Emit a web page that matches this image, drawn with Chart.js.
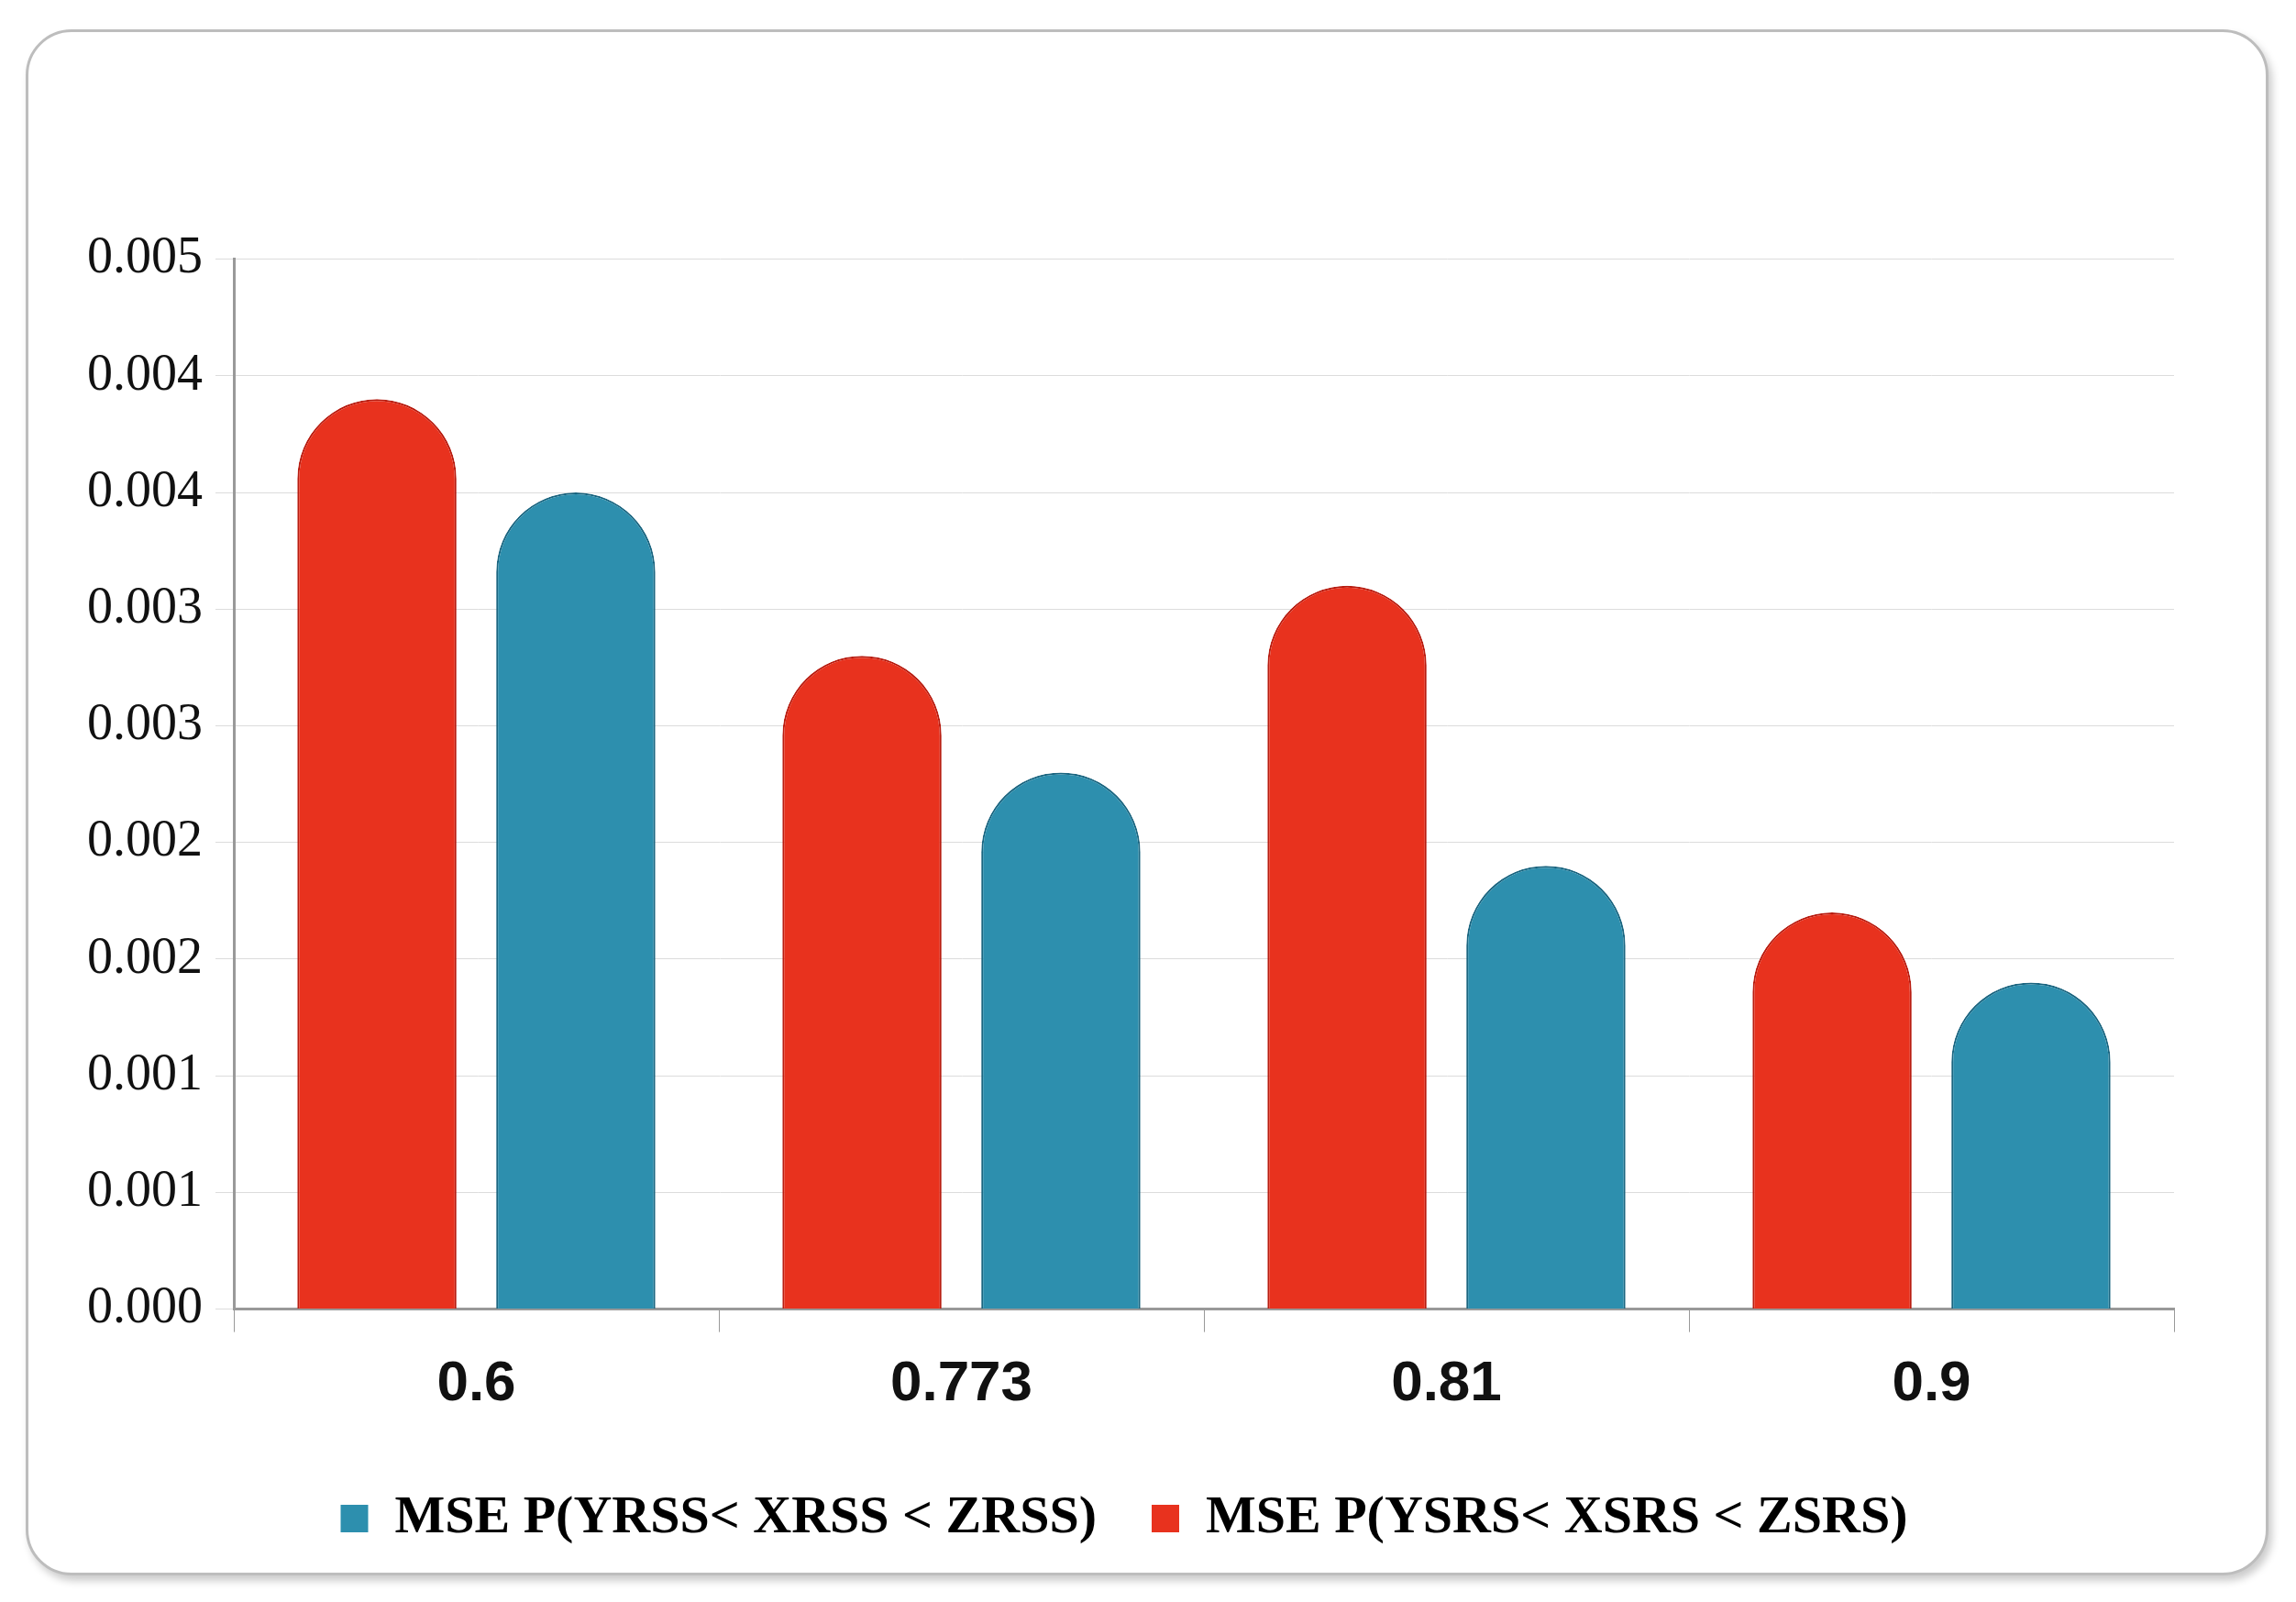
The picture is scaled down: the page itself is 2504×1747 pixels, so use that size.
<!DOCTYPE html>
<html><head><meta charset="utf-8">
<script src="https://cdn.jsdelivr.net/npm/chart.js@4/dist/chart.umd.min.js"></script>
<style>
html,body{margin:0;background:#fff;}
#frame{position:absolute;left:28px;top:32px;width:2440px;height:1680px;border:3px solid #bdbdbd;border-radius:50px;box-shadow:4px 6px 8px #ccc;background:#fff;}
#wrap{position:absolute;left:40px;top:200px;width:2380px;height:1460px;}
</style></head><body>
<div id="frame"><div id="wrap"><canvas id="c"></canvas></div></div>
<script>
const categories = ['0.6', '0.773', '0.81', '0.9'];
const srsValues  = [0.0039, 0.0028, 0.0031, 0.0017];
const rssValues  = [0.0035, 0.0023, 0.0019, 0.0014];
const yTickLabels = ['0.000','0.001','0.001','0.002','0.002','0.003','0.003','0.004','0.004','0.005'];
const red = '#e8321e', blue = '#2d8fae';

new Chart(document.getElementById('c'), {
  type: 'bar',
  data: {
    labels: categories,
    datasets: [
      { label: 'MSE P(YSRS< XSRS < ZSRS)', data: srsValues, backgroundColor: red,
        borderColor: '#b81c10', borderWidth: 2,
        borderRadius: {topLeft: 90, topRight: 90}, borderSkipped: 'bottom',
        barPercentage: 0.8, categoryPercentage: 0.82 },
      { label: 'MSE P(YRSS< XRSS < ZRSS)', data: rssValues, backgroundColor: blue,
        borderColor: '#1a6580', borderWidth: 2,
        borderRadius: {topLeft: 90, topRight: 90}, borderSkipped: 'bottom',
        barPercentage: 0.8, categoryPercentage: 0.82 }
    ]
  },
  options: {
    responsive: true, maintainAspectRatio: false, animation: false,
    layout: { padding: { right: 80, left: 10 } },
    plugins: {
      legend: { position: 'bottom',
        labels: { boxWidth: 30, boxHeight: 30, padding: 60, color: '#111',
          font: { family: 'Liberation Serif', size: 58, weight: 'bold' },
          generateLabels: ch => ch.data.datasets.map((d, i) => ({
            text: d.label, fillStyle: i === 0 ? red : blue,
            strokeStyle: 'transparent', datasetIndex: i })).reverse() } },
      tooltip: { enabled: false }
    },
    scales: {
      x: { grid: { display: true, drawOnChartArea: false, tickLength: 25, color: '#999', offset: true },
           border: { color: '#999', width: 3 },
           ticks: { color: '#111', padding: 20, font: { family: 'Liberation Sans', size: 62, weight: 'bold' } } },
      y: { min: 0, max: 0.0045,
           grid: { color: '#dcdcdc', tickLength: 20 },
           border: { color: '#999', width: 3 },
           ticks: { stepSize: 0.0005, color: '#111', padding: 14,
             font: { family: 'Liberation Serif', size: 56 },
             callback: (v, i) => yTickLabels[i] } }
    }
  }
});
</script></body></html>
